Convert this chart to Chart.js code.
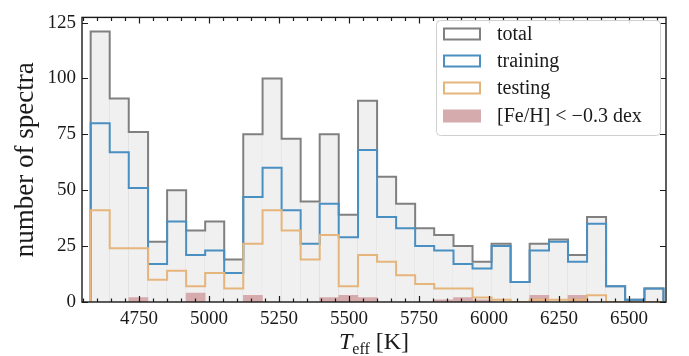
<!DOCTYPE html>
<html><head><meta charset="utf-8">
<script src="https://cdn.jsdelivr.net/npm/chart.js@4/dist/chart.umd.min.js"></script>
<style>html,body{margin:0;padding:0;background:#fff}#wrap{width:689px;height:356px;position:relative}</style>
</head><body><div id="wrap"><canvas id="c"></canvas></div>
<script>
const binEdges = [4577,4645,4713,4782,4850,4918,4986,5054,5122,5191,5259,5327,5395,5463,5532,5600,5668,5736,5804,5873,5941,6009,6077,6145,6214,6282,6350,6418,6486,6555,6623];
const total     = [121,91,76,27,50,32,36,19,75,100,73,45,75,39,90,56,44,33,30,25,18,26,9,26,28,21,38,7,1,6];
const training  = [80,67,51,17,36,21,23,13,47,60,41,26,44,29,68,38,33,25,23,17,15,25,9,23,27,18,35,7,1,6];
const testing   = [41,24,24,10,14,7,13,6,26,41,32,19,30,7,21,18,12,8,6,6,2,1,0,1,1,1,3,0,0,0];
const metalPoor = [0,0,2,0,0,4,0,0,3,0,0,0,2,3,2,0,0,0,1,2,1,0,0,3,0,3,0,0,0,0];
const xTickLabels = [4750,5000,5250,5500,5750,6000,6250,6500];
const yTickLabels = [0,25,50,75,100,125];
const seriesLabels = ['total','training','testing','[Fe/H] < \u22120.3 dex'];

const FONT = 'Liberation Serif';
const C_GRAY = '#808080', C_BLUE = '#4a8fc2', C_ORANGE = '#e5b57b', C_RED = '#d6abad';

function stepPoints(vals){
  const n = vals.length;
  const pts = [{x: binEdges[0], y: 0}];
  vals.forEach((v,i)=>pts.push({x: binEdges[i], y: v}));
  pts.push({x: binEdges[n], y: vals[n-1]});
  pts.push({x: binEdges[n], y: 0});
  return pts;
}
function barPoints(vals){
  return vals.map((v,i)=>({x:(binEdges[i]+binEdges[i+1])/2, y:v}));
}
const lineBase = {type:'line', pointRadius:0, borderWidth:2, stepped:'before', fill:false, borderJoinStyle:'miter', borderCapStyle:'butt'};

const legendItems = [
  {label: seriesLabels[0], kind:'outline', color:C_GRAY},
  {label: seriesLabels[1], kind:'outline', color:C_BLUE},
  {label: seriesLabels[2], kind:'outline', color:C_ORANGE},
  {label: seriesLabels[3], kind:'fill', color:C_RED}
];

const decor = {
  id:'decor',
  afterDatasetsDraw(chart){
    const {ctx, chartArea:a, scales:{x,y}} = chart;
    ctx.save();
    ctx.strokeStyle = '#1a1a1a';
    ctx.lineWidth = 1.2;
    ctx.beginPath();
    xTickLabels.forEach(v=>{
      const px = Math.round(x.getPixelForValue(v))+0.5;
      ctx.moveTo(px,a.bottom); ctx.lineTo(px,a.bottom-6);
      ctx.moveTo(px,a.top); ctx.lineTo(px,a.top+6);
    });
    for(let v=Math.ceil(x.min/50)*50; v<=x.max; v+=50){
      if (v%250===0) continue;
      const px = Math.round(x.getPixelForValue(v))+0.5;
      ctx.moveTo(px,a.bottom); ctx.lineTo(px,a.bottom-3.5);
      ctx.moveTo(px,a.top); ctx.lineTo(px,a.top+3.5);
    }
    yTickLabels.forEach(v=>{
      const py = Math.round(y.getPixelForValue(v))+0.5;
      ctx.moveTo(a.left,py); ctx.lineTo(a.left+6,py);
      ctx.moveTo(a.right,py); ctx.lineTo(a.right-6,py);
    });
    ctx.stroke();
    ctx.lineWidth = 1.4;
    ctx.strokeRect(a.left, a.top, a.right-a.left, a.bottom-a.top);

    // legend
    const bx = 436, by = 20, bw = 224, bh = 115;
    ctx.beginPath();
    ctx.roundRect(bx+0.5, by+0.5, bw, bh, 4);
    ctx.fillStyle = 'rgba(255,255,255,0.85)';
    ctx.fill();
    ctx.strokeStyle = '#cfcfcf'; ctx.lineWidth = 1;
    ctx.stroke();
    const rows = [34, 61, 88, 116];
    ctx.font = '20px "'+FONT+'"';
    ctx.textBaseline = 'middle';
    ctx.textAlign = 'left';
    legendItems.forEach((it,i)=>{
      const cy = rows[i];
      if (it.kind==='outline'){
        ctx.strokeStyle = it.color; ctx.lineWidth = 2;
        ctx.strokeRect(444, cy-5.5, 36, 11);
      } else {
        ctx.fillStyle = it.color;
        ctx.fillRect(443, cy-6.5, 38, 13);
      }
      ctx.fillStyle = '#1a1a1a';
      ctx.fillText(it.label, 497, cy+1);
    });

    // x-axis title: T_eff [K]
    const cx = (a.left+a.right)/2, base = 349;
    const fT = 'italic 24px "'+FONT+'"', fS = '16px "'+FONT+'"', fK = '24px "'+FONT+'"';
    ctx.textBaseline = 'alphabetic';
    ctx.font = fT; const wT = ctx.measureText('T').width;
    ctx.font = fS; const wS = ctx.measureText('eff').width;
    ctx.font = fK; const wK = ctx.measureText(' [K]').width;
    let sx = cx - (wT+wS+wK)/2;
    ctx.fillStyle = '#1a1a1a';
    ctx.font = fT; ctx.fillText('T', sx, base); sx += wT;
    ctx.font = fS; ctx.fillText('eff', sx, base+5); sx += wS;
    ctx.font = fK; ctx.fillText(' [K]', sx, base);
    ctx.restore();
  }
};

new Chart(document.getElementById('c'), {
  data: {
    datasets: [
      {type:'bar', label:'total (fill)', data: barPoints(total), backgroundColor:'#f0f0f0', borderColor:'#e0e0e0',
       borderWidth:{top:0,right:1,bottom:0,left:0}, borderSkipped:false, grouped:false, barPercentage:1, categoryPercentage:1, order:5},
      {type:'bar', label: seriesLabels[3], data: barPoints(metalPoor), backgroundColor:C_RED, borderWidth:0,
       grouped:false, barPercentage:1, categoryPercentage:1, order:4},
      Object.assign({}, lineBase, {label: seriesLabels[0], data: stepPoints(total), borderColor:C_GRAY, order:3}),
      Object.assign({}, lineBase, {label: seriesLabels[1], data: stepPoints(training), borderColor:C_BLUE, order:2}),
      Object.assign({}, lineBase, {label: seriesLabels[2], data: stepPoints(testing), borderColor:C_ORANGE, order:1})
    ]
  },
  options: {
    responsive:true, maintainAspectRatio:false, animation:false,
    layout:{padding:{top:10, right:23, left:0, bottom:0}},
    plugins:{legend:{display:false}, tooltip:{enabled:false}},
    scales:{
      x:{type:'linear', min:4546, max:6632, offset:false,
         grid:{display:false, drawTicks:false, offset:false}, border:{display:false},
         afterBuildTicks: s=>{ s.ticks = xTickLabels.map(v=>({value:v})); },
         afterFit: s=>{ s.height = 54; },
         ticks:{font:{family:FONT, size:19}, color:'#1a1a1a', padding:6, maxRotation:0, autoSkip:false, callback:v=>String(v)}},
      y:{type:'linear', min:0, max:127.3,
         grid:{display:false, drawTicks:false}, border:{display:false},
         afterBuildTicks: s=>{ s.ticks = yTickLabels.map(v=>({value:v})); },
         afterFit: s=>{ s.width = 82; },
         ticks:{font:{family:FONT, size:19}, color:'#1a1a1a', padding:6, callback:v=>String(v)},
         title:{display:true, text:'number of spectra', font:{family:FONT, size:27}, color:'#1a1a1a', padding:{top:10,bottom:0}}}
    }
  },
  plugins:[decor]
});
</script>
</body></html>
